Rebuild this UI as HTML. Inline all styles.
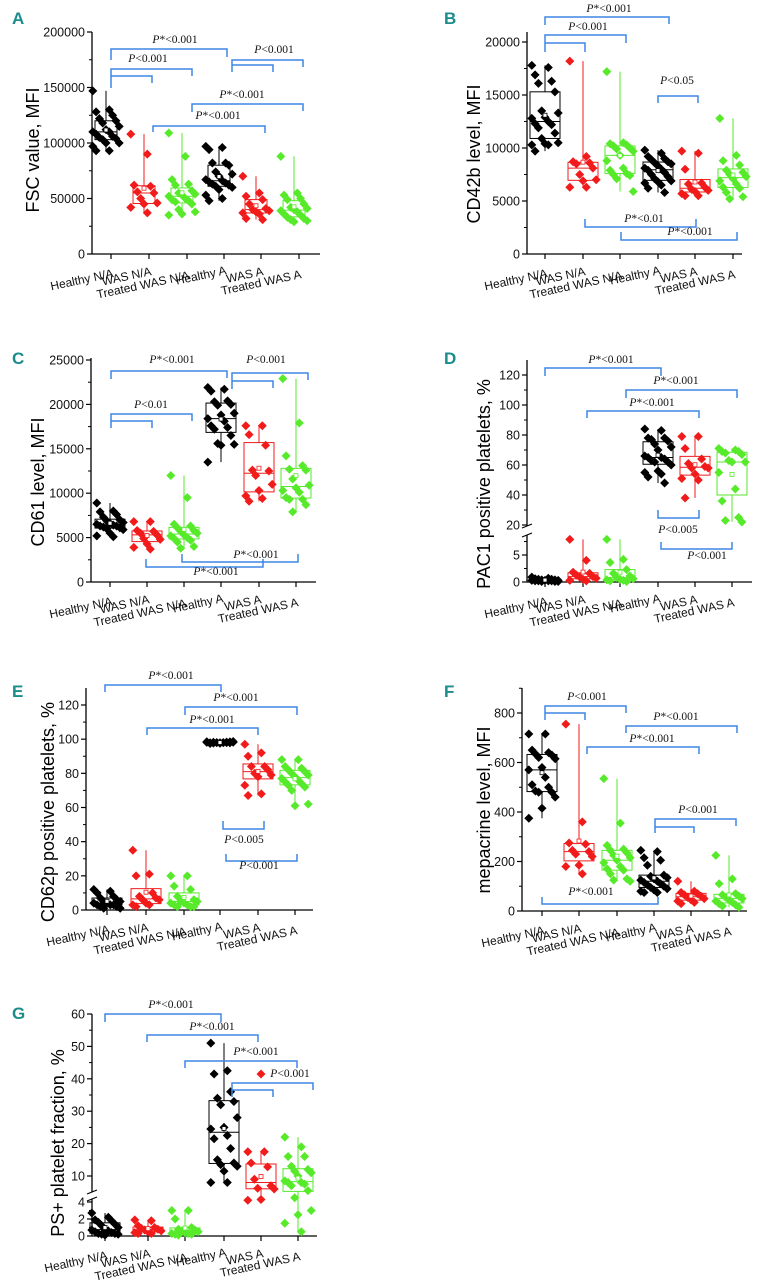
<!DOCTYPE html>
<html><head><meta charset="utf-8"><style>
html,body{margin:0;padding:0;background:#fff;}
svg{display:block;}
.tk{font-family:"Liberation Sans",sans-serif;font-size:12.5px;fill:#111;}
.xl{font-family:"Liberation Sans",sans-serif;font-size:12px;fill:#111;}
.yt{font-family:"Liberation Sans",sans-serif;font-size:18px;fill:#000;}
.pl{font-family:"Liberation Sans Narrow","Liberation Sans",sans-serif;font-size:17px;font-weight:bold;fill:#1a8c8c;}
.pv{font-family:"Liberation Serif",serif;font-size:11.5px;fill:#111;}
</style></head><body>
<svg id="fig" width="769" height="1280" viewBox="0 0 769 1280" xmlns="http://www.w3.org/2000/svg"></svg>
<script>
const categories = ["Healthy N/A","WAS N/A","Treated WAS N/A","Healthy A","WAS A","Treated WAS A"];
const groupColors = ["#000000","#f21b1b","#57ea2b","#000000","#f21b1b","#57ea2b"];

const valuesA = [
 [147,130,128,125,122,120,118,115,112,110,110,108,106,105,104,103,100,100,97,93,93],
 [108,90,62,61,56,55,50,46,45,42,37],
 [109,88,67,63,62,57,55,54,53,52,50,49,48,47,45,40,38,36,35],
 [97,96,94,82,82,80,74,72,70,67,66,65,64,63,62,61,60,58,53,50,48],
 [70,55,52,49,45,41,40,39,38,37,36,32,31],
 [88,55,53,50,49,45,42,41,40,39,38,36,35,33,32,31,30,29]
];
const valuesB = [
 [17.8,17.6,16.9,16.3,16.1,15.3,13.5,13.3,12.9,12.8,12.5,12.3,12.2,11.9,11.4,10.9,10.5,10.4,10.3,10.3,9.7],
 [18.2,9.2,8.7,8.6,8.5,8.1,7.5,7.0,6.9,6.3,6.3],
 [17.2,10.5,10.4,10.3,10.2,10.0,9.9,9.7,9.3,8.8,8.1,7.9,7.6,7.5,7.4,7.1,5.9],
 [9.8,9.5,9.2,9.0,8.9,8.7,8.6,8.5,8.3,8.1,8.0,7.9,7.7,7.5,7.3,7.1,6.9,6.8,6.7,6.5,6.2,5.8],
 [9.7,9.5,8.0,6.7,6.6,6.3,6.1,6.0,5.9,5.7,5.5,5.5],
 [12.8,9.3,8.8,8.4,7.9,7.7,7.5,7.3,7.1,6.9,6.6,6.3,6.2,5.8,5.4,5.2]
];
const valuesC = [
 [8.9,8.0,7.9,7.6,7.3,7.0,6.9,6.7,6.6,6.5,6.4,6.3,6.3,6.2,6.1,6.0,5.9,5.5,5.2,5.1],
 [6.8,6.8,5.8,5.7,5.5,5.3,4.9,4.8,4.3,3.9,3.7],
 [12.0,9.5,6.5,6.3,6.1,5.8,5.7,5.5,5.3,5.2,5.0,4.9,4.7,4.5,4.0,3.8],
 [21.9,21.7,21.5,20.4,20.3,20.0,19.9,19.0,18.8,18.4,18.1,17.6,17.4,17.2,16.5,15.6,15.5,15.4,13.5],
 [17.6,17.6,16.6,15.4,12.6,12.5,12.0,11.0,10.3,9.7,9.4,9.1],
 [22.9,17.9,14.2,13.1,12.7,12.6,11.6,10.9,10.6,10.3,10.1,9.5,9.3,9.3,8.7,7.9]
];
const valuesD = [
 [0.9,0.7,0.6,0.5,0.5,0.4,0.4,0.3,0.3,0.3,0.2,0.2,0.2,0.2,0.1,0.1,0.1],
 [7.9,4.0,1.8,1.6,1.3,1.0,0.9,0.7,0.5,0.3,0.2],
 [7.9,4.2,3.6,2.3,1.6,1.1,0.8,0.6,0.5,0.4,0.3,0.2,0.1],
 [84,83,78,78,77,76,74,72,70,66,65,65,64,63,62,62,60,56,55,54,52,48],
 [79,79,71,64,61,59,58,58,54,51,50,38],
 [71,70,69,69,68,67,63,62,62,55,44,36,25,23,22]
];
const valuesE = [
 [12,11,10,8,7,6,5,5,4,4,3,3,3,2,2,1,1],
 [35,21,20,10,8,7,6,6,4,3,3,2],
 [20,20,14,12,8,6,5,5,4,4,3,3,2,2,2],
 [98.5,98,97.5,98,98.2,97.8,98,98.6,97.6,98.1,98,97.9,98.3,97.7,98.4,98,98.2,97.9],
 [97,92,90,84,84,82,80,79,78,73,68,67],
 [88,88,84,83,82,81,80,79,78,77,76,75,74,73,72,70,62,61]
];
const valuesF = [
 [715,715,650,640,635,630,620,615,580,570,540,510,500,485,480,480,460,415,375],
 [755,360,275,270,245,240,230,220,185,180,150],
 [535,355,265,250,245,235,225,215,205,195,180,170,165,150,130,125,120],
 [245,240,215,205,185,145,140,135,130,125,120,115,110,105,100,95,90,85,80,75,75],
 [120,80,75,70,65,60,55,50,45,40,35,30],
 [225,130,110,70,65,60,55,50,45,40,35,30,25,20,15]
];
const valuesG = [
 [2.7,2.2,1.9,1.8,1.6,1.4,1.2,1.0,0.8,0.7,0.6,0.5,0.4,0.3,0.3,0.2,0.2,0.1],
 [1.9,1.8,1.2,1.0,0.9,0.8,0.7,0.6,0.5,0.4,0.3,0.3],
 [3.0,3.0,2.0,1.0,0.8,0.7,0.6,0.5,0.4,0.3,0.3,0.2,0.2,0.1],
 [51,42.5,41.5,36,34,33,32,28,25,24.5,22.5,21.5,18.5,15,14,13.5,13,11.5,8,8],
 [17.5,17.5,14,12.8,9,7,6.2,6,4.3,4.2],
 [22,19,16,16,13,12,11.5,11,10,8.5,8,8,7.5,7,5.5,4.5,3,2.5,1.5,0.5]
];
const ticksA = [0,50000,100000,150000,200000];
const ticksB = [0,5000,10000,15000,20000];
const ticksC = [0,5000,10000,15000,20000,25000];
const ticksD = [0,5,20,40,60,80,100,120];
const ticksE = [0,20,40,60,80,100,120];
const ticksF = [0,200,400,600,800];
const ticksG = [0,2,4,10,20,30,40,50,60];
const strayG = [41.5];

const NS="http://www.w3.org/2000/svg";
const svg=document.getElementById('fig');
function mk(tag,attrs,parent){const e=document.createElementNS(NS,tag);for(const k in attrs)e.setAttribute(k,attrs[k]);(parent||svg).appendChild(e);return e;}
function lin(v0,y0,v1,y1){return v=>y0+(v-v0)*(y1-y0)/(v1-v0);}
function quant(s,p){const i=(s.length-1)*p,lo=Math.floor(i),hi=Math.ceil(i);return s[lo]+(s[hi]-s[lo])*(i-lo);}

const panels=[
 {key:'a',label:'A',lx:12,ly:24,ax:92,xEnd:320,y0:254,top:32,cats:[111,149,187,224,261,299],boxW:22,boxOff:-5,vals:valuesA,mult:1000,
  scale:lin(0,254,200000,32),ticks:ticksA,minor:[25000,75000,125000,175000],title:'FSC value, MFI',tx:33,ty:150,
  br:[[111,227,49,60,57],[111,192,69,88,76],[111,152,76,0,83],[232,303,60,72,67],[232,273,65,0,72],[192,303,104,112,111],[153,265,126,132,133]],
  pt:[[175,43,'P*<0.001'],[148,62,'P<0.001'],[274,53,'P<0.001'],[242,98,'P*<0.001'],[218,119,'P*<0.001']]},
 {key:'b',label:'B',lx:444,ly:24,ax:527,xEnd:742,y0:254,top:32,cats:[545,583,620,658,695,733],boxW:30,boxOff:0,vals:valuesB,mult:1000,
  scale:lin(0,254,20000,42),ticks:ticksB,minor:[2500,7500,12500,17500],title:'CD42b level, MFI',tx:474,ty:154,
  br:[[545,669,17,25,24],[545,626,35,52,43],[545,585,43,0,52],[658,698,96,103,103],[585,696,227,219,219],[621,737,240,232,232]],
  pt:[[609,12,'P*<0.001'],[588,30,'P<0.001'],[677,84,'P<0.05'],[644,222,'P*<0.01'],[690,235,'P*<0.001']]},
 {key:'c',label:'C',lx:12,ly:364,ax:91,xEnd:316,y0:582,top:358,cats:[110,147,184,221,259,296],boxW:30,boxOff:0,vals:valuesC,mult:1000,
  scale:lin(0,582,25000,360),ticks:ticksC,minor:[2500,7500,12500,17500,22500],title:'CD61 level, MFI',tx:38,ty:482,
  br:[[111,227,371,379,378],[232,308,373,389,380],[232,273,381,0,388],[111,192,414,428,421],[111,152,421,0,428],[146,263,567,559,559],[182,298,562,554,554]],
  pt:[[172,363,'P*<0.001'],[266,363,'P<0.001'],[151,408,'P<0.01'],[216,575,'P*<0.001'],[256,558,'P*<0.001']]},
 {key:'d',label:'D',lx:444,ly:364,ax:527,xEnd:752,y0:582,top:360,cats:[545,583,620,658,695,732],boxW:30,boxOff:0,vals:valuesD,mult:1,
  scale:v=>v<=12?582-v*5.4:525-(v-20)*1.5,ticks:ticksD,minor:[2.5,7.5,30,50,70,90,110],title:'PAC1 positive platelets, %',tx:484,ty:484,brk:[535,526],
  br:[[545,661,368,376,376],[626,737,390,398,398],[587,699,411,418,418],[658,699,518,510,510],[661,732,549,542,542]],
  pt:[[611,363,'P*<0.001'],[676,384,'P*<0.001'],[652,406,'P*<0.001'],[678,533,'P<0.005'],[707,559,'P<0.001']]},
 {key:'e',label:'E',lx:12,ly:697,ax:86,xEnd:313,y0:910,top:688,cats:[107,146,184,220,258,295],boxW:30,boxOff:0,vals:valuesE,mult:1,
  scale:lin(0,910,120,705),ticks:ticksE,minor:[10,30,50,70,90,110],title:'CD62p positive platelets, %',tx:48,ty:812,
  br:[[105,221,685,692,692],[185,297,707,715,715],[147,258,728,735,735],[223,264,829,821,821],[226,297,861,854,854]],
  pt:[[171,679,'P*<0.001'],[236,701,'P*<0.001'],[212,723,'P*<0.001'],[244,843,'P<0.005'],[259,869,'P<0.001']]},
 {key:'f',label:'F',lx:444,ly:697,ax:522,xEnd:747,y0:911,top:688,cats:[542,579,617,654,691,729],boxW:30,boxOff:0,vals:valuesF,mult:1,
  scale:lin(0,911,800,713),ticks:ticksF,minor:[100,300,500,700,900],title:'mepacrine level, MFI',tx:484,ty:810,
  br:[[545,626,706,720,713],[545,585,713,0,720],[626,737,726,733,733],[587,699,747,754,754],[655,736,819,833,826],[655,694,827,0,833],[542,658,904,897,897]],
  pt:[[587,700,'P<0.001'],[676,720,'P*<0.001'],[652,742,'P*<0.001'],[698,813,'P<0.001'],[591,895,'P*<0.001']]},
 {key:'g',label:'G',lx:12,ly:1019,ax:92,xEnd:317,y0:1236,top:1014,cats:[105,148,185,224,261,298],boxW:30,boxOff:0,vals:valuesG,mult:1,
  scale:v=>v<=5?1236-v*8.5:1176-(v-10)*3.24,ticks:ticksG,minor:[1,3,15,25,35,45,55],title:'PS+ platelet fraction,  %',tx:58,ty:1143,brk:[1199,1192],
  br:[[105,221,1014,1022,1022],[147,258,1035,1042,1042],[185,297,1061,1068,1068],[232,313,1083,1097,1090],[232,273,1090,0,1097]],
  pt:[[171,1008,'P*<0.001'],[212,1030,'P*<0.001'],[256,1055,'P*<0.001'],[290,1077,'P<0.001']]}
];
const xlDy=[23,21,25,20,21,24];
const jit=i=>((i*5)%9-4)*3.3;

panels.forEach(P=>{
  const g=mk('g',{});
  
  
  const lb=mk('text',{x:P.lx,y:P.ly,class:'pl'},g);lb.textContent=P.label;
  
  
  // y axis
  if(P.brk){
    const ya=mk('line',{x1:P.ax,y1:P.y0,x2:P.ax,y2:P.brk[0],stroke:'#000','stroke-width':1.3},g);
    
    
    const yb=mk('line',{x1:P.ax,y1:P.brk[1],x2:P.ax,y2:P.top,stroke:'#000','stroke-width':1.3},g);
    
    
    [P.brk[0],P.brk[1]].forEach(yy=>{const bm=mk('line',{x1:P.ax-5,y1:yy+2,x2:P.ax+5,y2:yy-2,stroke:'#000','stroke-width':1.2},g);
      
      });
  } else {
    const ya=mk('line',{x1:P.ax,y1:P.y0,x2:P.ax,y2:P.top,stroke:'#000','stroke-width':1.3},g);
    
    
  }
  const xa=mk('line',{x1:P.ax,y1:P.y0,x2:P.xEnd,y2:P.y0,stroke:'#000','stroke-width':1.3},g);
  
  
  P.ticks.forEach(t=>{const y=P.scale(t);
    const tl=mk('line',{x1:P.ax-5,y1:y,x2:P.ax,y2:y,stroke:'#000','stroke-width':1.2},g);
    
    
    const tx=mk('text',{x:P.ax-7,y:y+4.5,'text-anchor':'end',class:'tk'},g);tx.textContent=String(t);
    
    });
  P.minor.forEach(t=>{const y=P.scale(t);
    const tl=mk('line',{x1:P.ax-3,y1:y,x2:P.ax,y2:y,stroke:'#000','stroke-width':1},g);
    
    });
  const yt=mk('text',{x:0,y:0,'text-anchor':'middle',class:'yt',transform:`translate(${P.tx+6},${P.ty}) rotate(-90)`},g);
  yt.textContent=P.title;
  
  
  categories.forEach((c,i)=>{const x=P.cats[i];
    const tl=mk('line',{x1:x,y1:P.y0,x2:x,y2:P.y0+5,stroke:'#000','stroke-width':1.2},g);
    
    
    const t=mk('text',{x:0,y:0,'text-anchor':'end',class:'xl',transform:`translate(${x+3},${P.y0+xlDy[i]}) rotate(-12)`},g);
    t.textContent=c;
    
    });
  // boxes + points
  P.vals.forEach((arr,gi)=>{
    const col=groupColors[gi], cx=P.cats[gi]+P.boxOff, m=P.mult;
    const s=arr.map(v=>v*m).sort((a,b)=>a-b);
    const q1=quant(s,0.25),md=quant(s,0.5),q3=quant(s,0.75),mn=s[0],mx=s[s.length-1];
    const mean=s.reduce((a,b)=>a+b,0)/s.length;
    const bg=mk('g',{},g);
    
    
    const w=P.boxW/2, sc=P.scale;
    const wh=mk('line',{x1:cx,y1:sc(mx),x2:cx,y2:sc(q3),stroke:col,'stroke-width':1},bg);
    
    
    const wl=mk('line',{x1:cx,y1:sc(mn),x2:cx,y2:sc(q1),stroke:col,'stroke-width':1},bg);
    
    
    const bx=mk('rect',{x:cx-w,y:sc(q3),width:P.boxW,height:Math.max(0.5,sc(q1)-sc(q3)),fill:'none',stroke:col,'stroke-width':1},bg);
    
    
    const ml=mk('line',{x1:cx-w,y1:sc(md),x2:cx+w,y2:sc(md),stroke:col,'stroke-width':1},bg);
    
    
    arr.forEach((v,i)=>{const x=cx+jit(i),y=sc(v*m);
      const d=mk('path',{d:`M${x},${y-4.5}L${x+4.5},${y}L${x},${y+4.5}L${x-4.5},${y}Z`,fill:col},bg);
      
      });
    const mr=mk('rect',{x:cx-2,y:sc(mean)-2,width:4,height:4,fill:'#fff',stroke:col,'stroke-width':0.8},bg);
    
    
  });
  // brackets
  P.br.forEach(b=>{const [x1,x2,y,dl,dr]=b;
    let d=`M${x2},${dr}L${x2},${y}L${x1},${y}`; if(dl) d+=`L${x1},${dl}`;
    const p=mk('path',{d:d,fill:'none',stroke:'#3d86e6','stroke-width':1.5},g);
    
    });
  P.pt.forEach(t=>{const tx=mk('text',{x:t[0],y:t[1],'text-anchor':'middle',class:'pv'},g);
    const it=mk('tspan',{'font-style':'italic'},tx);it.textContent='P';
    const rs=mk('tspan',{},tx);rs.textContent=t[2].slice(1);
    
    });
  if(P.key==='g'){strayG.forEach(v=>{const x=P.cats[4],y=P.scale(v);
    const d=mk('path',{d:`M${x},${y-4.5}L${x+4.5},${y}L${x},${y+4.5}L${x-4.5},${y}Z`,fill:groupColors[4]},g);
    
    });}
});
</script>
</body></html>
